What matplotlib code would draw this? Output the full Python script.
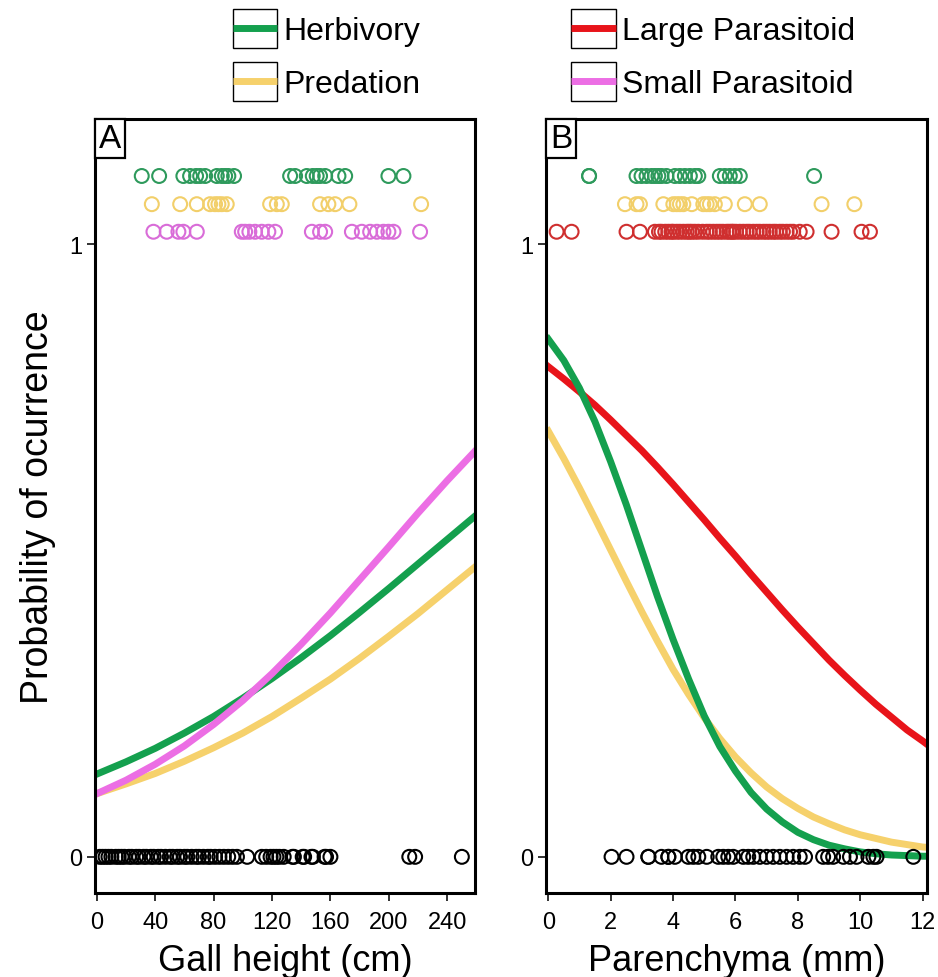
import numpy as np
import matplotlib
matplotlib.use("Agg")
import matplotlib.pyplot as plt
from matplotlib.legend_handler import HandlerBase
from matplotlib.lines import Line2D
from matplotlib.patches import Rectangle
from matplotlib.offsetbox import AnchoredText

plt.rcParams['font.family'] = ['Liberation Sans', 'DejaVu Sans']

# colours
GREEN = '#14a04e'
YELLOW = '#f6d16c'
PINK = '#ec6ee4'
RED = '#e8141a'
GREEN_PT = '#2e9a5c'
YELLOW_PT = '#f2cf6a'
PINK_PT = '#d96cd8'
RED_PT = '#cf2f2f'

# ---- panel A: gall height (cm) ----
a_x = [0, 20, 40, 60, 80, 100, 120, 140, 160, 180, 200, 220, 240, 259]
a_herb = [0.135, 0.155, 0.177, 0.202, 0.229, 0.259, 0.291, 0.325, 0.361,
          0.399, 0.438, 0.478, 0.518, 0.556]
a_pred = [0.103, 0.119, 0.136, 0.156, 0.178, 0.202, 0.229, 0.259, 0.290,
          0.324, 0.360, 0.397, 0.436, 0.473]
a_small = [0.103, 0.125, 0.151, 0.181, 0.216, 0.255, 0.299, 0.347, 0.398,
           0.452, 0.506, 0.561, 0.614, 0.662]

a_herb_pts = [30.8, 42.7, 59.3, 63.9, 68.0, 70.8, 74.2, 82.2, 85.6, 87.9, 90.1,
              94.0, 132.4, 135.8, 143.8, 147.9, 150.6, 152.9, 156.4, 165.5,
              170.1, 199.7, 210.0]
a_pred_pts = [37.7, 57.1, 68.5, 77.6, 81.0, 83.3, 85.6, 89.0, 118.7, 123.3,
              126.7, 152.9, 158.6, 163.2, 173.0, 222.1]
a_small_pts = [38.8, 47.9, 55.9, 59.3, 68.5, 99.3, 101.6, 104.5, 108.4, 113.0,
               117.5, 122.1, 147.3, 152.9, 156.4, 174.7, 181.5, 187.2, 191.8,
               196.3, 199.7, 203.2, 221.4]
a_zero_pts = [2, 4, 6, 8, 10, 13, 15, 17, 19, 22, 24, 27, 29, 32, 34, 37, 39,
              42, 44, 47, 50, 52, 55, 57, 60, 62, 65, 68, 70, 73, 76, 78, 81,
              84, 87, 90, 93, 96, 103, 113, 116, 119, 121, 123, 125, 128, 134,
              135, 141, 142, 147, 148, 156, 157, 160, 214, 218, 250]

# ---- panel B: parenchyma (mm) ----
b_x = [0, 0.5, 1, 1.5, 2, 2.5, 3, 3.5, 4, 4.5, 5, 5.5, 6, 6.5, 7, 7.5, 8,
       8.5, 9, 9.5, 10, 10.5, 11, 11.5, 12, 12.13]
b_large = [0.800, 0.780, 0.759, 0.737, 0.713, 0.688, 0.663, 0.636, 0.608,
           0.579, 0.550, 0.520, 0.491, 0.461, 0.432, 0.403, 0.375, 0.348,
           0.321, 0.296, 0.272, 0.249, 0.228, 0.207, 0.189, 0.184]
b_herb = [0.845, 0.810, 0.765, 0.710, 0.645, 0.575, 0.500, 0.425, 0.355,
          0.290, 0.230, 0.180, 0.140, 0.105, 0.078, 0.057, 0.040, 0.028,
          0.019, 0.013, 0.008, 0.005, 0.003, 0.002, 0.001, 0.001]
b_pred = [0.695, 0.650, 0.602, 0.552, 0.501, 0.450, 0.400, 0.352, 0.306,
          0.265, 0.227, 0.193, 0.163, 0.137, 0.114, 0.095, 0.079, 0.065,
          0.054, 0.044, 0.036, 0.030, 0.024, 0.020, 0.016, 0.0155]

b_herb_pts = [1.31, 1.31, 2.83, 2.99, 3.15, 3.31, 3.42, 3.53, 3.63, 3.79, 4.06,
              4.22, 4.38, 4.54, 4.70, 4.81, 5.50, 5.66, 5.82, 5.98, 6.14, 8.52]
b_pred_pts = [2.46, 2.83, 2.94, 3.69, 4.01, 4.12, 4.22, 4.33, 4.60, 4.97,
              5.08, 5.18, 5.34, 5.66, 6.30, 6.78, 8.76, 9.81]
b_large_pts = [0.27, 0.75, 2.51, 2.94, 3.42, 3.55, 3.63, 3.75, 3.85, 3.95,
               4.01, 4.12, 4.22, 4.33, 4.44, 4.52, 4.60, 4.70, 4.81, 4.95,
               5.08, 5.18, 5.29, 5.40, 5.50, 5.60, 5.72, 5.80, 5.88, 5.93,
               6.02, 6.14, 6.25, 6.36, 6.45, 6.57, 6.68, 6.78, 6.90, 7.00,
               7.10, 7.21, 7.30, 7.42, 7.52, 7.64, 7.75, 7.85, 8.06, 8.28,
               9.08, 10.04, 10.31]
b_zero_pts = [2.03, 2.51, 3.21, 3.21, 3.63, 3.85, 3.85, 4.06, 4.49, 4.65,
              4.81, 5.08, 5.45, 5.61, 5.77, 5.93, 6.25, 6.41, 6.57, 6.78, 7.00,
              7.21, 7.42, 7.64, 7.85, 8.06, 8.23, 8.81, 8.97, 9.13, 9.46, 9.67,
              9.88, 10.26, 10.42, 10.52, 11.70]

# rows where the occurrence points sit
ROW_TOP, ROW_MID, ROW_LOW = 1.111, 1.065, 1.020

LW = 5
MS = 100


def points(ax, xs, row, color):
    ax.scatter(xs, np.full(len(xs), row), s=MS, facecolors='none',
               edgecolors=color, linewidths=1.5, zorder=3)


def style(ax, xlim, xticks, xlabel, tag):
    ax.set_xlim(*xlim)
    ax.set_ylim(-0.059, 1.204)
    ax.set_xticks(xticks)
    ax.set_yticks([0, 1])
    ax.set_yticklabels(['0', '1'])
    ax.tick_params(axis='both', direction='out', length=6, width=1.3,
                   labelsize=17, color='#222222')
    ax.tick_params(axis='x', pad=7)
    ax.tick_params(axis='y', pad=3)
    for s in ax.spines.values():
        s.set_linewidth(2.2)
    ax.set_xlabel(xlabel, fontsize=26, labelpad=7)
    at = AnchoredText(tag, loc='upper left', prop=dict(size=24),
                      frameon=True, pad=0.12, borderpad=0)
    at.patch.set_boxstyle('square,pad=0')
    at.patch.set_linewidth(1.6)
    ax.add_artist(at)


class BoxedLine(HandlerBase):
    def create_artists(self, legend, orig_handle, xdescent, ydescent,
                       width, height, fontsize, trans):
        box = Rectangle((-xdescent, -ydescent), width, height, fc='white',
                        ec='black', lw=1.0, transform=trans)
        ln = Line2D([-xdescent, width - xdescent],
                    [height / 2 - ydescent] * 2,
                    color=orig_handle.get_color(), lw=LW,
                    solid_capstyle='butt', transform=trans)
        return [box, ln]


fig = plt.figure(figsize=(9.38, 9.78), dpi=100)
axA = fig.add_axes([0.1013, 0.0859, 0.4051, 0.7914])
axB = fig.add_axes([0.5821, 0.0859, 0.4059, 0.7914])

# panel A
axA.plot(a_x, a_pred, color=YELLOW, lw=LW)
axA.plot(a_x, a_herb, color=GREEN, lw=LW)
axA.plot(a_x, a_small, color=PINK, lw=LW)
points(axA, a_herb_pts, ROW_TOP, GREEN_PT)
points(axA, a_pred_pts, ROW_MID, YELLOW_PT)
points(axA, a_small_pts, ROW_LOW, PINK_PT)
points(axA, a_zero_pts, 0, 'black')
style(axA, (-1.2, 259), range(0, 241, 40), 'Gall height (cm)', 'A')
axA.set_ylabel('Probability of ocurrence', fontsize=27, labelpad=10)

# panel B
axB.plot(b_x, b_large, color=RED, lw=LW)
axB.plot(b_x, b_pred, color=YELLOW, lw=LW)
axB.plot(b_x, b_herb, color=GREEN, lw=LW)
points(axB, b_herb_pts, ROW_TOP, GREEN_PT)
points(axB, b_pred_pts, ROW_MID, YELLOW_PT)
points(axB, b_large_pts, ROW_LOW, RED_PT)
points(axB, b_zero_pts, 0, 'black')
style(axB, (-0.07, 12.13), range(0, 13, 2), 'Parenchyma (mm)', 'B')

handles = [Line2D([], [], color=GREEN), Line2D([], [], color=YELLOW),
           Line2D([], [], color=RED), Line2D([], [], color=PINK)]
labels = ['Herbivory', 'Predation', 'Large Parasitoid', 'Small Parasitoid']
fig.legend(handles, labels, handler_map={Line2D: BoxedLine()}, ncol=2,
           loc='center', bbox_to_anchor=(0.580, 0.943), frameon=False,
           fontsize=23, handlelength=1.4, handleheight=1.5,
           handletextpad=0.2, columnspacing=4.7, labelspacing=0.45,
           borderaxespad=0, borderpad=0)

fig.savefig('out.png', dpi=100)
